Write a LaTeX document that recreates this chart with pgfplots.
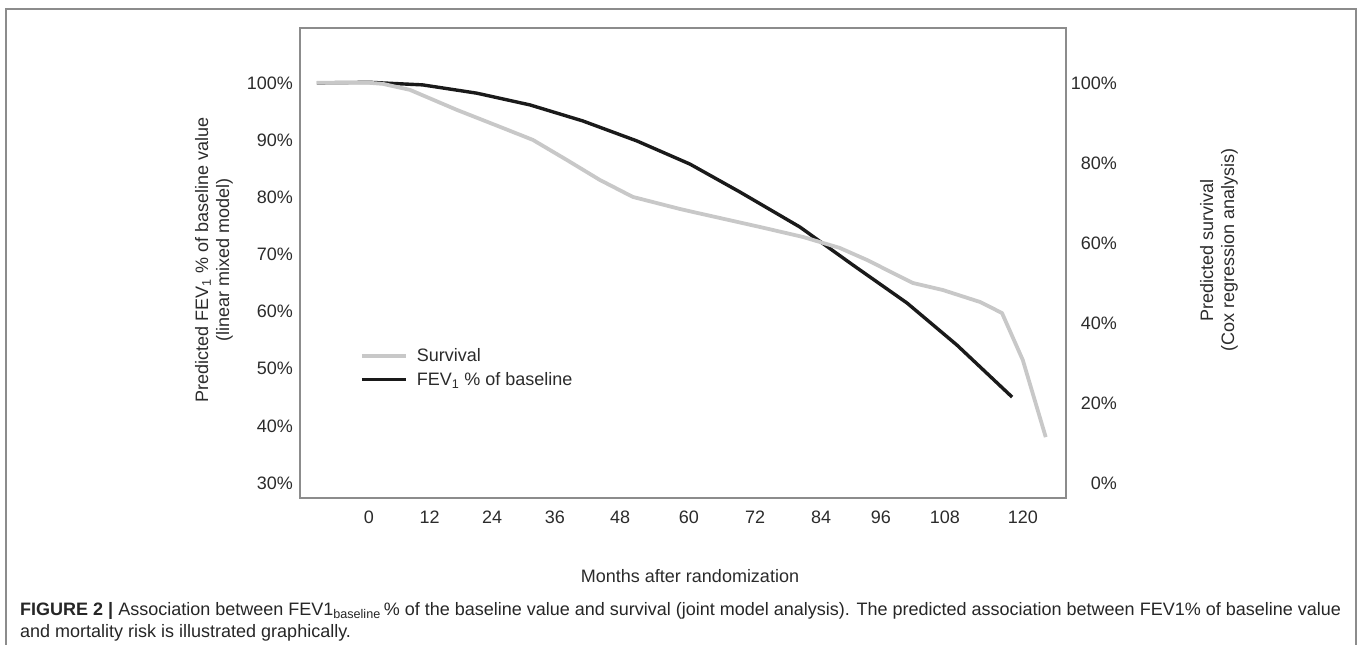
\documentclass[border=0pt]{standalone}
\usepackage{pgfplots}
\pgfplotsset{compat=1.18}
\usepackage{fontspec}
\setmainfont{Liberation Sans}
\definecolor{surv}{HTML}{C8C8C8}
\definecolor{fev}{HTML}{1A1A1A}
\definecolor{framec}{HTML}{8C8C8C}
\definecolor{txt}{HTML}{2B2B2B}

\pgfplotstableread{
m v
-9.75 100.0
0.2 100.1
10.1 99.65
20.25 98.2
30.2 96.15
40.1 93.35
50.25 89.85
60.2 85.8
69.6 80.9
80.8 74.8
90.75 68.15
100.9 61.5
110.25 54.15
120.6 45.05
}\fevdata

\pgfplotstableread{
m s
-9.75 100
0.2 100
2.6 99.75
7.7 98.25
16.5 93.25
24.6 89
30.75 85.75
37.1 80.75
43.3 75.75
49.5 71.5
58.3 68.5
60.75 67.75
73.3 64
81.4 61.5
88.3 58.75
93.4 55.75
98.25 52.5
102 50
107.6 48.25
114.6 45.25
118.7 42.5
122.6 30.75
126.9 11.5
}\survdata

\newcommand{\tickfont}{\fontsize{18}{21}\selectfont}

\begin{document}
\begin{tikzpicture}[x=1pt,y=1pt]
\path[use as bounding box] (0,0) rectangle (1360,-645);
\draw[framec, line width=1.5pt] (6,-646) -- (6,-9) -- (1356,-9) -- (1356,-646);

\pgfplotsset{base/.style={
  scale only axis, width=766pt, height=470pt,
  at={(300pt,-498pt)}, anchor=south west,
  xmin=-12.9, xmax=130.7,
  axis line style={framec, line width=1.2pt},
  major tick style={draw=none}, minor tick style={draw=none},
  ticklabel style={font=\tickfont, text=txt},
  /pgf/number format/assume math mode=true,
}}

\begin{axis}[base,
  ymin=27.4, ymax=109.6,
  ytick={30,40,50,60,70,80,90,100},
  yticklabels={30\%,40\%,50\%,60\%,70\%,80\%,90\%,100\%},
  yticklabel style={anchor=east, inner sep=0pt, xshift=-7pt},
  xtick={0,11.4,23.1,34.9,47.1,60,72.4,84.8,96,108,122.6},
  xticklabels={0,12,24,36,48,60,72,84,96,108,120},
  xticklabel style={anchor=north, inner sep=0pt, yshift=-13pt},
]
\addplot[fev, line width=3.4pt, line join=round] table[x=m, y=v] {\fevdata};
\end{axis}

\begin{axis}[base,
  axis x line=none, axis y line*=right,
  ymin=-3.71, ymax=113.7,
  ytick={0,20,40,60,80,100},
  yticklabels={0\%,20\%,40\%,60\%,80\%,100\%},
  yticklabel style={anchor=east, inner sep=0pt, xshift=51pt},
  legend style={draw=none, fill=none, at={(0.078,0.322)}, anchor=north west,
    font=\tickfont, text=txt, row sep=5pt, column sep=7pt, inner sep=0pt},
  legend cell align=left,
  legend image code/.code={\draw[#1] (0pt,0pt) -- (44pt,0pt);},
]
\addplot[surv, line width=3.8pt, line join=round] table[x=m, y=s] {\survdata};
\addlegendentry{Survival}
\addlegendimage{fev, line width=3.4pt}
\addlegendentry{FEV\textsubscript{1} \% of baseline}
\end{axis}

\node[rotate=90, align=center, text=txt, font=\tickfont, anchor=center] at (214,-260)
  {Predicted FEV\textsubscript{1} \% of baseline value\\(linear mixed model)};
\node[rotate=90, align=center, text=txt, font=\tickfont, anchor=center] at (1219,-250)
  {Predicted survival\\(Cox regression analysis)};
\node[text=txt, font=\tickfont] at (690,-576) {Months after randomization};

\node[anchor=base west, inner sep=0pt, text=black!85, font=\fontsize{18}{21}\selectfont] at (20,-615)
  {\textbf{FIGURE 2 |} Association between FEV1\textsubscript{baseline}\,\% of the baseline value and survival (joint model analysis). The predicted association between FEV1\% of baseline value};
\node[anchor=base west, inner sep=0pt, text=black!85, font=\fontsize{18}{21}\selectfont] at (20,-637)
  {and mortality risk is illustrated graphically.};
\end{tikzpicture}
\end{document}
